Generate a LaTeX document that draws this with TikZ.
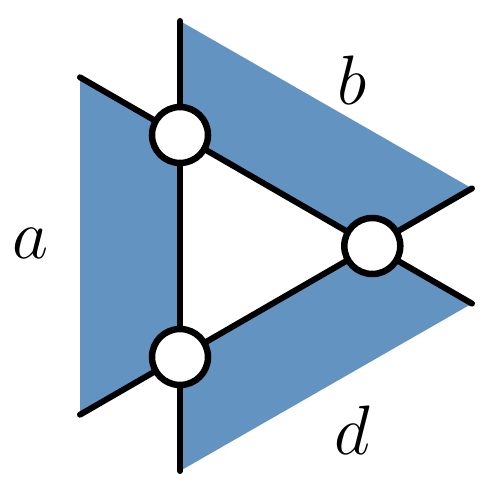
\documentclass[tikz,border=0pt]{standalone}
\usepackage{fix-cm}
\begin{document}
\begin{tikzpicture}[x=1pt,y=-1pt,
  region/.style={fill=regblue,draw=none},
  wire/.style={line width=6pt,line cap=round},
  vtx/.style={circle,draw,line width=6.5pt,fill=white,minimum size=56pt,inner sep=0pt},
  lbl/.style={font=\fontsize{70}{70}\selectfont}]
\definecolor{regblue}{RGB}{99,148,193}
\useasboundingbox (0,0) rectangle (496,490);
\coordinate (A) at (180,135);
\coordinate (B) at (180,357);
\coordinate (C) at (372.3,246);
\coordinate (Lt) at (80,77.3);
\coordinate (Lb) at (80,414.7);
\coordinate (Rt) at (472,188.4);
\coordinate (Rb) at (472,303.6);
\coordinate (Vt) at (180,21);
\coordinate (Vb) at (180,471);
% blue regions
\fill[region] (Lt) -- (A) -- (B) -- (Lb) -- cycle;
\fill[region] (Vt) -- (Rt) -- (C) -- (A) -- cycle;
\fill[region] (Vb) -- (Rb) -- (C) -- (B) -- cycle;
% wires
\draw[wire] (Vt) -- (Vb);
\draw[wire] (Lt) -- (Rb);
\draw[wire] (Lb) -- (Rt);
% vertices
\node[vtx] (va) at (A) {};
\node[vtx] (vb) at (B) {};
\node[vtx] (vc) at (C) {};
% labels
\node[lbl] (la) at (30,243) {$a$};
\node[lbl] (lb) at (352,80) {$b$};
\node[lbl] (ld) at (352,430) {$d$};
\end{tikzpicture}
\end{document}
